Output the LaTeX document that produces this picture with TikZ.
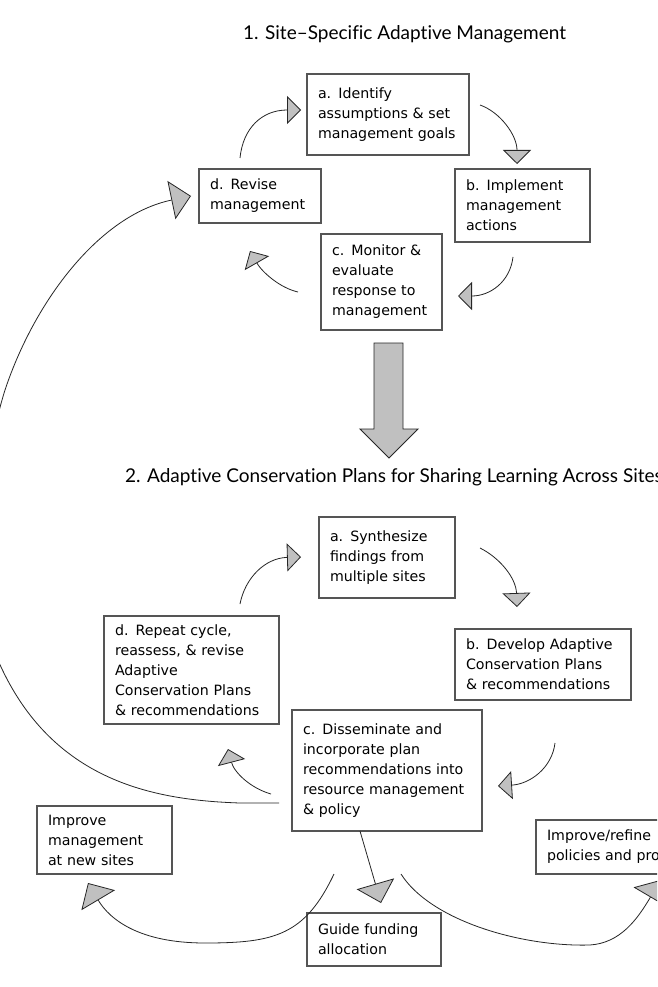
\documentclass[tikz,border=0pt]{standalone}
\usepackage{fontspec}
\setmainfont{DejaVu Sans}
\newfontfamily\headfont[Ligatures=NoCommon]{Lato}
\usetikzlibrary{arrows.meta,calc}
\definecolor{tipgray}{RGB}{192,192,192}
\definecolor{framegray}{RGB}{85,85,85}

\begin{document}
\begin{tikzpicture}[
    x=1pt, y=-1pt,
    stagebox/.style={draw=framegray, line width=1.2pt, anchor=north west, align=left,
        inner xsep=11pt, inner ysep=0pt, outer sep=0pt,
        font=\fontsize{14.2}{20}\selectfont},
    heading/.style={anchor=base west, inner sep=0pt, font=\headfont\fontsize{19}{22}\selectfont},
    cyclearrow/.style={-{Triangle[width=28pt,length=14pt,fill=tipgray]}, line width=0.8pt, draw=black!85},
    spreadarrow/.style={-{Triangle[width=39pt,length=20pt,fill=tipgray]}, line width=0.8pt, draw=black!85}
]
    \useasboundingbox (0,0) rectangle (657,987);
    \fill[white] (0,0) rectangle (657,987);
    \clip (0,0) rectangle (657,987);

    % Headings
    \node[heading] (title1) at (243,40) {1. Site–Specific Adaptive Management};
    \node[heading] (title2) at (125,482) {2. Adaptive Conservation Plans for Sharing Learning Across Sites};

    % Site-specific cycle
    \node[stagebox, text width=140pt, minimum height=81pt] (A1) at (307,74) {a. Identify\\assumptions \& set\\management goals};
    \node[stagebox, text width=113pt, minimum height=73pt] (B1) at (455,169) {b. Implement\\management\\actions};
    \node[stagebox, text width=99pt, minimum height=96pt] (C1) at (321,234) {c. Monitor \&\\evaluate\\response to\\management};
    \node[stagebox, text width=100pt, minimum height=54pt] (D1) at (199,169) {d. Revise\\management};

    \draw[cyclearrow] ($(D1.north)+(-20,-11)$) .. controls (243,128) and (262,110) .. ($(A1.west)+(-6,-4.5)$);
    \draw[cyclearrow] ($(A1.east)+(11,-9.5)$) .. controls (500,112) and (517,135) .. ($(B1.north)+(-5.5,-5)$);
    \draw[cyclearrow] ($(B1.south)+(-9.5,15)$) .. controls (510,282) and (490,296) .. ($(C1.east)+(16,14)$);
    \draw[cyclearrow] ($(C1.west)+(-23,10)$) .. controls (280,288) and (262,272) .. ($(D1.south)+(-10,28)$);

    % Block arrow between the two stages
    \filldraw[fill=tipgray, draw=black!85, line width=0.9pt]
        (374,343) -- (403,343) -- (403,429) -- (418,429) -- (389,458) -- (360,429) -- (374,429) -- cycle;

    % Cycle for sharing across sites
    \node[stagebox, text width=114pt, minimum height=81pt] (A2) at (319,517) {a. Synthesize\\findings from\\multiple sites};
    \node[stagebox, text width=154pt, minimum height=71pt] (B2) at (455,629) {b. Develop Adaptive\\Conservation Plans\\\& recommendations};
    \node[stagebox, text width=168pt, minimum height=121pt] (C2) at (292,710) {c. Disseminate and\\incorporate plan\\recommendations into\\resource management\\\& policy};
    \node[stagebox, text width=153pt, minimum height=108pt] (D2) at (104,616) {d. Repeat cycle,\\reassess, \& revise\\Adaptive\\Conservation Plans\\\& recommendations};

    \draw[cyclearrow] ($(D2.north)+(48.5,-12)$) .. controls (245,578) and (265,558) .. ($(A2.west)+(-18,-0.5)$);
    \draw[cyclearrow] ($(A2.east)+(25,-9.5)$) .. controls (500,558) and (516,578) .. ($(B2.north)+(-26,-22)$);
    \draw[cyclearrow] ($(B2.south)+(12,43)$) .. controls (552,768) and (530,784) .. ($(C2.east)+(16,15.5)$);
    \draw[cyclearrow] ($(C2.west)+(-21,23.5)$) .. controls (250,788) and (234,772) .. ($(D2.south)+(36.5,25)$);

    % Outcomes
    \node[stagebox, text width=113pt, minimum height=68pt] (IM) at (37,806) {Improve\\management\\at new sites};
    \node[stagebox, text width=112pt, minimum height=53pt] (GF) at (307,913) {Guide funding\\allocation};
    \node[stagebox, text width=160pt, minimum height=54pt] (IR) at (536,820) {Improve/refine\\policies and programs};

    \draw[spreadarrow] ($(C2.south)+(-27,0)$) -- ($(GF.north)+(7,-10)$);
    \draw[spreadarrow] ($(C2.south)+(-53,43)$) .. controls (305,935) and (275,943) .. (205,943)
        .. controls (140,943) and (110,920) .. ($(IM.south)+(-16.5,9)$);
    \draw[spreadarrow] ($(C2.south)+(14,43)$) .. controls (430,920) and (520,947) .. (590,945)
        .. controls (620,943) and (637,920) .. ($(IR.south)+(33.5,6)$);

    % Feedback to the site level
    \draw[spreadarrow] ($(C2.west)+(-13,32.5)$) -- (240,803) .. controls (150,800) and (40,780) .. (-10,640)
        .. controls (-28,590) and (-20,470) .. (5,390)
        .. controls (35,300) and (100,215) .. ($(D1.west)+(-8,0)$);
\end{tikzpicture}
\end{document}
